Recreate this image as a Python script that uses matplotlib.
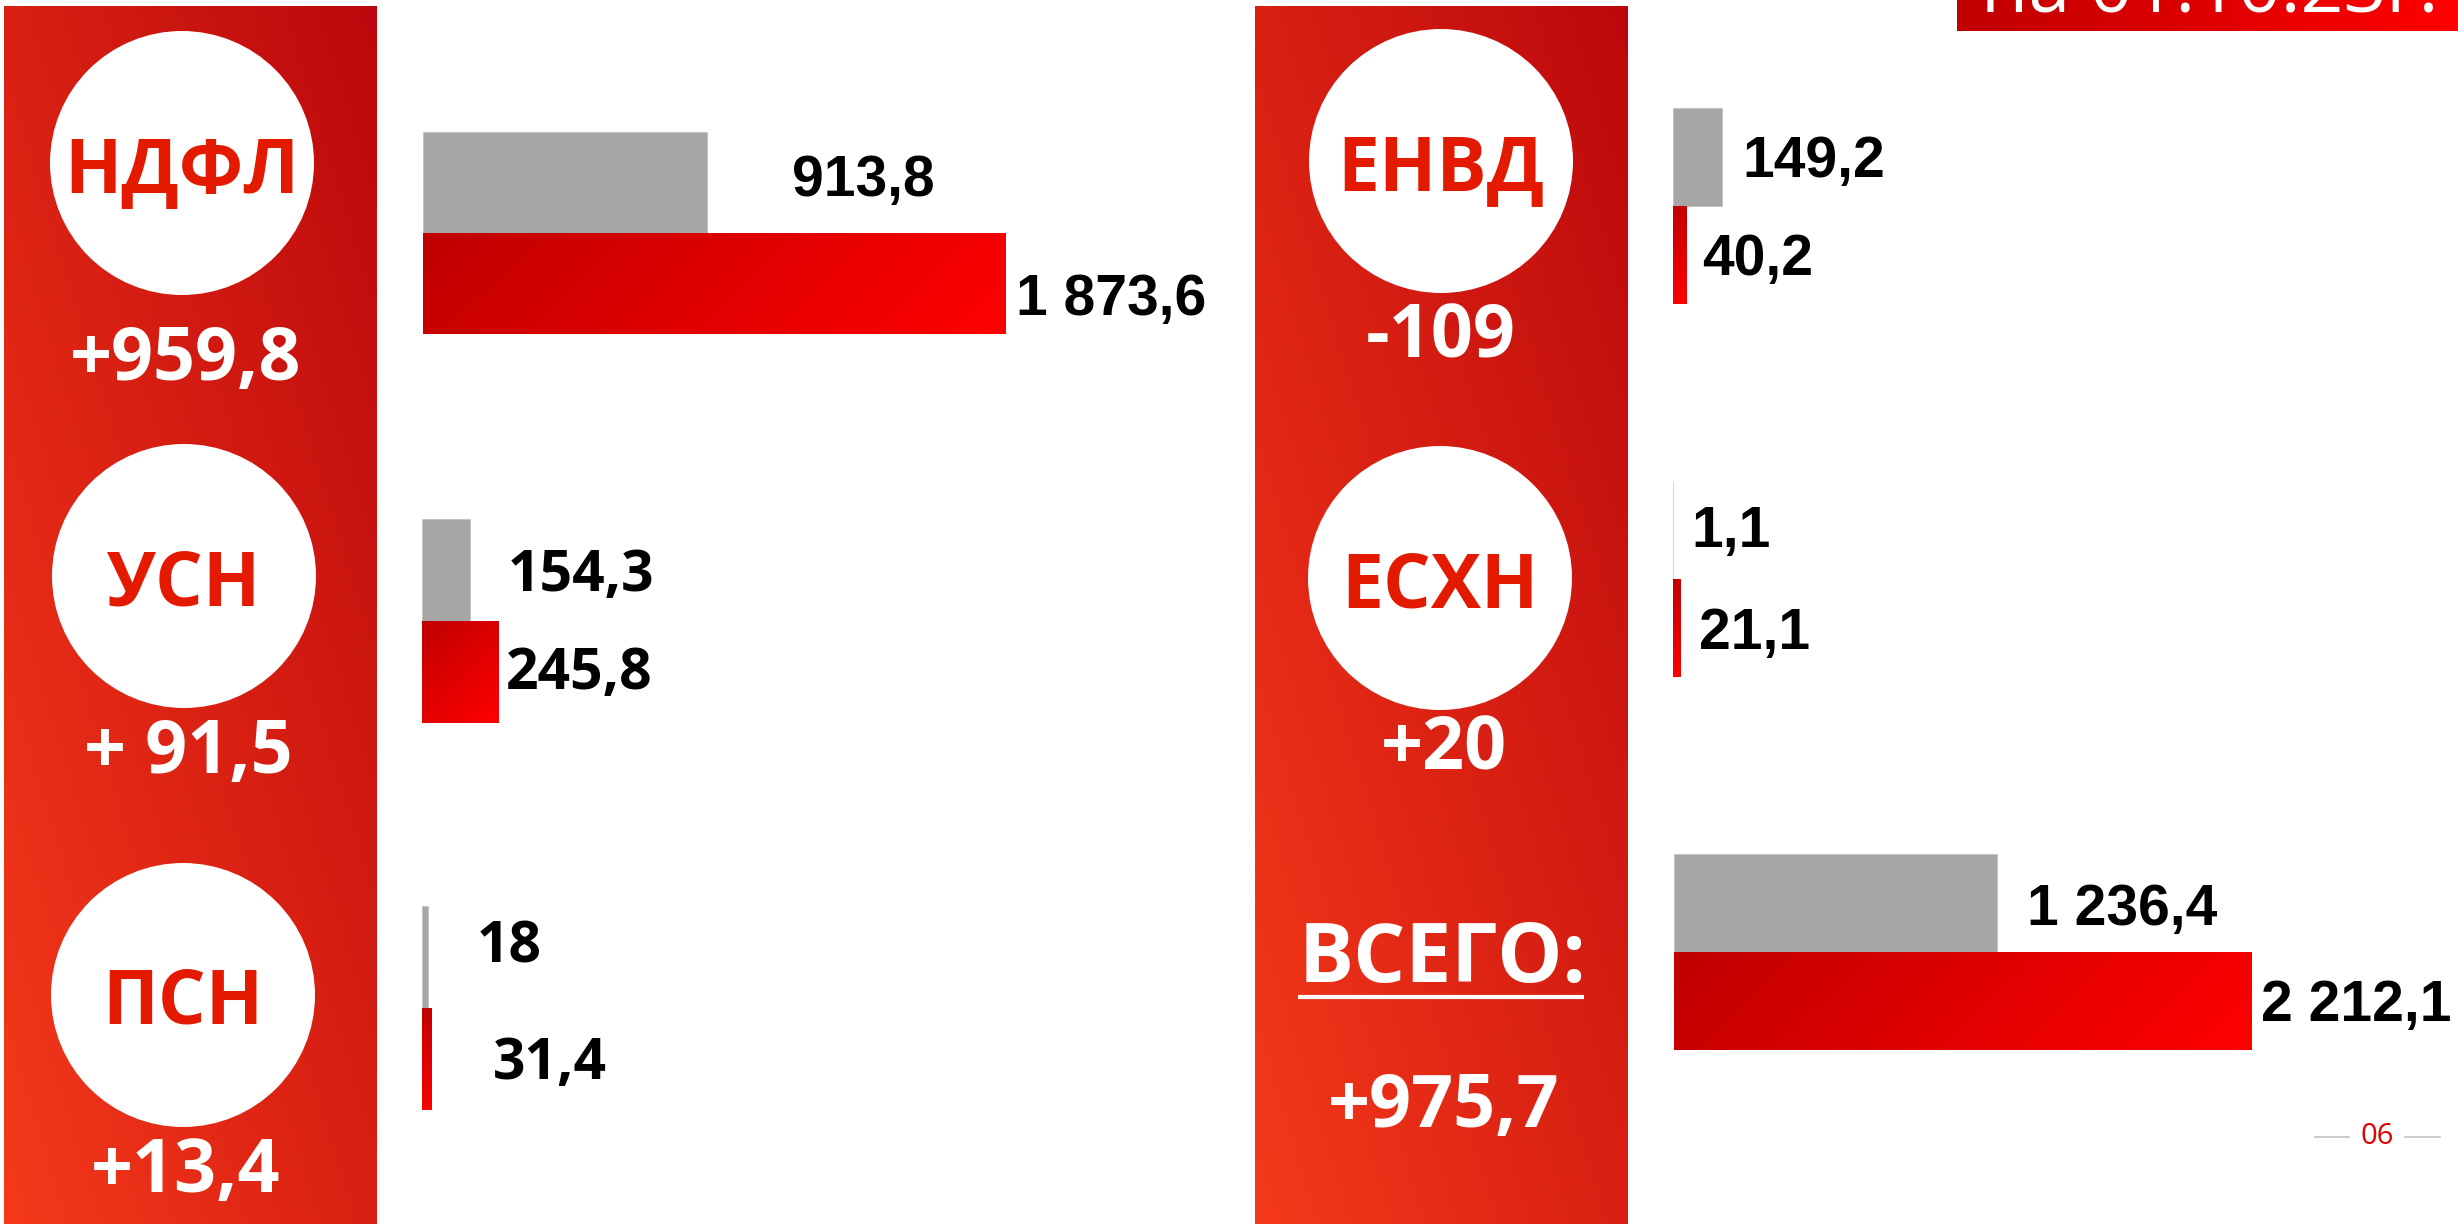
import matplotlib.pyplot as plt
import numpy as np
from matplotlib.patches import Circle
from matplotlib.colors import LinearSegmentedColormap

# ---- data ----
taxes = ['НДФЛ', 'УСН', 'ПСН', 'ЕНВД', 'ЕСХН']
prev_vals = [913.8, 154.3, 18, 149.2, 1.1]
curr_vals = [1873.6, 245.8, 31.4, 40.2, 21.1]
changes = ['+959,8', '+ 91,5', '+13,4', '-109', '+20']
total_title = 'ВСЕГО:'
total_prev = 1236.4
total_curr = 2212.1
total_change = '+975,7'
date_label = 'на 01.10.23г.'
page_no = '06'

# ---- layout (pixels) ----
W, H = 2458, 1224
panel_cmap = LinearSegmentedColormap.from_list('panel', ['#f5391a', '#bc080c'])
bar_cmap = LinearSegmentedColormap.from_list('bar', ['#c00000', '#ff0000'])
circle_red = '#e31a00'

circ_xy = [(182, 163), (184, 576), (183, 995), (1441, 161), (1440, 578)]
change_xy = [(186, 380), (188, 773), (186, 1192), (1441, 358), (1444, 770)]
# bar group: left, top, bar height, px per unit
groups = [(423, 132, 101, 0.311), (422, 519, 102, 0.31), (422, 906, 102, 0.31),
          (1673, 108, 98, 0.33), (1673, 481, 98, 0.37), (1674, 854, 98, 0.261)]
# label offsets from bar end (dx, dy of cap centre)
offsets = [[(85, -7), (10, 11)], [(38, 0), (8, -4)], [(49, -15), (61, 0)],
           [(20, 0), (16, 0)], [(18, -4), (18, 0)], [(30, 2), (10, 0)]]
lbl_fonts = [('Liberation Sans', 41), ('Open Sans', 41), ('Open Sans', 41),
             ('Liberation Sans', 41), ('Liberation Sans', 41), ('Liberation Sans', 41)]


def fmt(v):
    s = f'{v:,.1f}'.replace(',', ' ').replace('.', ',')
    return s[:-2] if s.endswith(',0') else s


def gradient(ax, x0, y0, x1, y1, cmap, diag=True):
    u = np.linspace(0, 1, 200)
    v = np.linspace(1, 0, 400)
    U, V = np.meshgrid(u, v)
    t = (U + V) / 2 if diag else U
    ax.imshow(t, cmap=cmap, vmin=0, vmax=1, extent=(x0, x1, y1, y0),
              aspect='auto', interpolation='bilinear', zorder=0)


fig = plt.figure(figsize=(W / 100, H / 100), dpi=100)
bg = fig.add_axes([0, 0, 1, 1])
bg.axis('off')

# red side panels
gradient(bg, 4, 6, 377, H, panel_cmap)
gradient(bg, 1255, 6, 1628, H, panel_cmap)

for name, (cx, cy), ch, (vx, vy) in zip(taxes, circ_xy, changes, change_xy):
    bg.add_patch(Circle((cx, cy), 132, fc='white', ec='none', zorder=2))
    bg.text(cx, cy + 29, name, color=circle_red, fontsize=54, fontweight='bold',
            family='Open Sans', ha='center', va='baseline', zorder=3)
    bg.text(vx, vy, ch, color='white', fontsize=53, fontweight='bold',
            family='Open Sans', ha='center', va='baseline', zorder=3)

bg.text(1443, 982, total_title, color='white', fontsize=59, fontweight='bold',
        family='Open Sans', ha='center', va='baseline', zorder=3)
bg.plot([1298, 1584], [997, 997], color='white', lw=3, solid_capstyle='butt', zorder=3)
bg.text(1444, 1127, total_change, color='white', fontsize=53, fontweight='bold',
        family='Open Sans', ha='center', va='baseline', zorder=3)

# date box top right (text runs off the top edge, as on the slide)
gradient(bg, 1957, 0, W, 31, bar_cmap, diag=False)
bg.text(2438, 12, date_label, color='white', fontsize=54, family='Open Sans',
        ha='right', va='baseline', zorder=3)

# page number
bg.text(2377, 1137, page_no, color='#e00000', fontsize=21, family='Open Sans',
        ha='center', va='center', zorder=3)
bg.plot([2315, 2349], [1137, 1137], color='#c4c4c4', lw=1.2)
bg.plot([2405, 2440], [1137, 1137], color='#c4c4c4', lw=1.2)

bg.set_xlim(0, W)
bg.set_ylim(H, 0)

# bar groups
all_prev = prev_vals + [total_prev]
all_curr = curr_vals + [total_curr]
for (x0, top, bh, ppu), pv, cv, offs, (fam, fs) in zip(groups, all_prev, all_curr,
                                                        offsets, lbl_fonts):
    wpx = 900
    ax = fig.add_axes([x0 / W, 1 - (top + 2 * bh) / H, wpx / W, 2 * bh / H])
    ax.axis('off')
    bars = ax.barh([0, 1], [pv, cv], height=1.0, color=['#a6a6a6', 'none'],
                   edgecolor='none')
    bars[0].set_edgecolor('#b8b8b8')
    bars[0].set_linewidth(0.4)
    # red bar with gradient
    wr = cv * ppu
    xs = np.linspace(0, wr, 256)
    ys = np.linspace(0, bh, 64)
    X, Y = np.meshgrid(xs, ys)
    t = (X + Y) / (wr + bh)
    im = ax.imshow(t, cmap=bar_cmap, vmin=0, vmax=1, extent=(0, cv, 1.5, 0.5),
                   aspect='auto', interpolation='bilinear', zorder=2)
    im.set_clip_path(bars[1])
    cap = fs * 100 / 72 * 0.72
    for i, (v, (dx, dy)) in enumerate(zip([pv, cv], offs)):
        ax.annotate(fmt(v), xy=(v, i), xytext=(dx, -(dy + cap / 2)),
                    textcoords='offset pixels', ha='left', va='baseline',
                    fontsize=fs, fontweight='bold', family=[fam, 'DejaVu Sans'],
                    color='black', annotation_clip=False)
    ax.set_xlim(0, wpx / ppu)
    ax.set_ylim(1.5, -0.5)

fig.savefig('out.png', dpi=100)
